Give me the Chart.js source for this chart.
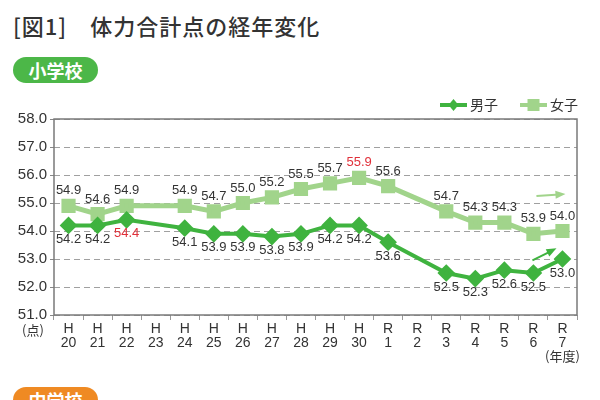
<!DOCTYPE html>
<html>
<head>
<meta charset="utf-8">
<script src="https://cdn.jsdelivr.net/npm/chart.js@4"></script>
<style>
  body { margin: 0; width: 600px; height: 400px; overflow: hidden; background: #fff;
         font-family: 'Liberation Sans', 'Noto Sans CJK JP', sans-serif; position: relative; }
  .title { position: absolute; left: 13px; top: 9px; font-size: 22px; color: #333;
           font-family: 'Noto Sans CJK JP', sans-serif; font-weight: 500; letter-spacing: 1px; }
  .pill { position: absolute; left: 13px; width: 85px; height: 26px; border-radius: 13px;
          color: #fff; font-size: 18px; font-weight: 700; text-align: center; line-height: 26px;
          font-family: 'Noto Sans CJK JP', sans-serif; }
  .green { top: 57px; background: #4cb748; }
  .orange { top: 387px; background: #ef8a23; }
  #wrap { position: absolute; left: 0; top: 0; width: 600px; height: 400px; }
</style>
</head>
<body>
<div class="title">[図1]　体力合計点の経年変化</div>
<div class="pill green">小学校</div>
<div class="pill orange">中学校</div>
<div id="wrap"><canvas id="chart"></canvas></div>
<script>
// 年度ラベル (H23, R2 は調査なし)
const eras = ['H','H','H','H','H','H','H','H','H','H','H','R','R','R','R','R','R','R'];
const years = ['20','21','22','23','24','25','26','27','28','29','30','1','2','3','4','5','6','7'];
const boys  = [54.2, 54.2, 54.4, null, 54.1, 53.9, 53.9, 53.8, 53.9, 54.2, 54.2, 53.6, null, 52.5, 52.3, 52.6, 52.5, 53.0];
const girls = [54.9, 54.6, 54.9, null, 54.9, 54.7, 55.0, 55.2, 55.5, 55.7, 55.9, 55.6, null, 54.7, 54.3, 54.3, 53.9, 54.0];
const yTicks = [51, 52, 53, 54, 55, 56, 57, 58];

const boysColor = '#3fb33f';
const girlsColor = '#a1d48b';
const numFont = "'Liberation Sans', Arial, sans-serif";
const jpFont = "'Noto Sans CJK JP', sans-serif";

// red labels = highest value of each series
const boysMax = Math.max(...boys.filter(v => v !== null));
const girlsMax = Math.max(...girls.filter(v => v !== null));

const labels = eras.map((e, i) => [e, years[i]]);

// dashed horizontal grid
const dashedGrid = {
	id: 'dashedGrid',
	beforeDatasetsDraw(chart) {
		const ctx = chart.ctx;
		const area = chart.chartArea;
		const ys = chart.scales.y;
		ctx.save();
		ctx.strokeStyle = '#a0a0a0';
		ctx.lineWidth = 1;
		ctx.setLineDash([6, 4]);
		yTicks.forEach(v => {
			const y = Math.round(ys.getPixelForValue(v)) + 0.5;
			ctx.beginPath();
			ctx.moveTo(area.left, y);
			ctx.lineTo(area.right, y);
			ctx.stroke();
		});
		ctx.restore();
	}
};

// data labels, frame, legend, unit labels and arrows
const extras = {
	id: 'extras',
	afterDatasetsDraw(chart) {
		const ctx = chart.ctx;
		const area = chart.chartArea;
		const xs = chart.scales.x, ys = chart.scales.y;
		ctx.save();

		// frame
		ctx.strokeStyle = '#7a7a7a';
		ctx.lineWidth = 1.5;
		ctx.strokeRect(area.left, area.top, area.right - area.left, area.bottom - area.top);

		// value labels
		ctx.font = '13px ' + numFont;
		ctx.textAlign = 'center';
		ctx.textBaseline = 'middle';
		chart.data.datasets.forEach((ds, di) => {
			const meta = chart.getDatasetMeta(di);
			const maxV = di === 0 ? boysMax : girlsMax;
			ds.data.forEach((v, i) => {
				if (v === null) return;
				const p = meta.data[i];
				ctx.fillStyle = v === maxV ? '#e0303a' : '#333';
				const dy = di === 0 ? 14 : -15;
				ctx.fillText(v.toFixed(1), p.x, p.y + dy);
			});
		});

		// unit labels
		ctx.fillStyle = '#333';
		ctx.font = '13px ' + jpFont;
		ctx.textAlign = 'center';
		ctx.fillText('(点)', area.left - 21, area.bottom + 15);
		ctx.fillText('(年度)', xs.getPixelForValue(labels.length - 1), area.bottom + 41);

		// arrows near the latest year
		const xa = xs.getPixelForValue(labels.length - 2);
		const xb = xs.getPixelForValue(labels.length - 1);
		function arrow(x1, y1, x2, y2, color) {
			const ang = Math.atan2(y2 - y1, x2 - x1);
			ctx.strokeStyle = color;
			ctx.fillStyle = color;
			ctx.lineWidth = 2;
			ctx.beginPath();
			ctx.moveTo(x1, y1);
			ctx.lineTo(x2 - 6 * Math.cos(ang), y2 - 6 * Math.sin(ang));
			ctx.stroke();
			ctx.beginPath();
			ctx.moveTo(x2, y2);
			ctx.lineTo(x2 - 10 * Math.cos(ang) + 4 * Math.sin(ang), y2 - 10 * Math.sin(ang) - 4 * Math.cos(ang));
			ctx.lineTo(x2 - 10 * Math.cos(ang) - 4 * Math.sin(ang), y2 - 10 * Math.sin(ang) + 4 * Math.cos(ang));
			ctx.closePath();
			ctx.fill();
		}
		arrow(xa + 3, ys.getPixelForValue(55.25), xb + 3, ys.getPixelForValue(55.32), girlsColor);
		arrow(xa - 1, ys.getPixelForValue(52.95), xb - 6, ys.getPixelForValue(53.38), boysColor);

		// legend
		const items = [
			{ text: '男子', color: boysColor, style: 'diamond', x: 440 },
			{ text: '女子', color: girlsColor, style: 'square', x: 520 }
		];
		const ly = 105;
		items.forEach(it => {
			ctx.strokeStyle = it.color;
			ctx.fillStyle = it.color;
			ctx.lineWidth = 4;
			ctx.beginPath();
			ctx.moveTo(it.x, ly);
			ctx.lineTo(it.x + 27, ly);
			ctx.stroke();
			const cx = it.x + 13.5;
			ctx.beginPath();
			if (it.style === 'diamond') {
				ctx.moveTo(cx, ly - 6); ctx.lineTo(cx + 5, ly); ctx.lineTo(cx, ly + 6); ctx.lineTo(cx - 5, ly);
			} else {
				ctx.rect(cx - 6, ly - 6, 12, 12);
			}
			ctx.closePath();
			ctx.fill();
			ctx.fillStyle = '#333';
			ctx.font = '14px ' + jpFont;
			ctx.textAlign = 'left';
			ctx.fillText(it.text, it.x + 30, ly);
		});
		ctx.restore();
	}
};

new Chart(document.getElementById('chart'), {
	type: 'line',
	data: {
		labels: labels,
		datasets: [
			{
				label: '男子',
				data: boys,
				borderColor: boysColor,
				backgroundColor: boysColor,
				borderWidth: 4,
				pointStyle: 'rectRot',
				pointRadius: 6,
				pointHoverRadius: 6,
				spanGaps: true,
				tension: 0
			},
			{
				label: '女子',
				data: girls,
				borderColor: girlsColor,
				backgroundColor: girlsColor,
				borderWidth: 5,
				pointStyle: 'rect',
				pointRadius: 6.5,
				pointHoverRadius: 6.5,
				spanGaps: true,
				tension: 0
			}
		]
	},
	options: {
		responsive: true,
		maintainAspectRatio: false,
		animation: false,
		events: [],
		layout: { padding: { left: 0, top: 119, right: 23, bottom: 0 } },
		plugins: {
			legend: { display: false },
			tooltip: { enabled: false }
		},
		scales: {
			x: {
				offset: true,
				afterFit(scale) { scale.height = 85; },
				grid: { drawOnChartArea: false, drawTicks: true, tickLength: 5, color: '#999', offset: true },
				border: { display: false },
				ticks: {
					color: '#333',
					font: { size: 14, family: numFont, lineHeight: 1.0 },
					maxRotation: 0,
					autoSkip: false,
					padding: 2
				}
			},
			y: {
				min: 51,
				max: 58,
				afterFit(scale) { scale.width = 54; },
				afterBuildTicks(scale) { scale.ticks = yTicks.map(v => ({ value: v })); },
				grid: { drawOnChartArea: false, color: '#888', lineWidth: 1, tickLength: 4, drawTicks: true },
				border: { display: false },
				ticks: {
					color: '#333',
					font: { size: 15, family: numFont },
					padding: 3,
					callback: v => v.toFixed(1)
				}
			}
		}
	},
	plugins: [dashedGrid, extras]
});
</script>
</body>
</html>
